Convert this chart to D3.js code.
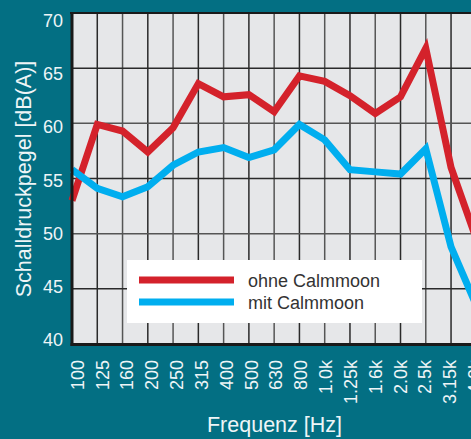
<!DOCTYPE html>
<html><head><meta charset="utf-8">
<script src="https://cdn.jsdelivr.net/npm/d3@7"></script>
<style>
html,body{margin:0;padding:0;background:#036f83;}
svg{display:block;}
text{font-family:"Liberation Sans",Arial,Helvetica,sans-serif;}
</style></head>
<body>
<script>
const categories = ["100","125","160","200","250","315","400","500","630","800","1.0k","1.25k","1.6k","2.0k","2.5k","3.15k","4.0k"];
const ohneCalmmoon = [53.0,59.9,59.3,57.4,59.6,63.6,62.4,62.6,61.05,64.3,63.8,62.5,60.9,62.4,66.8,56.0,49.5];
const mitCalmmoon  = [55.8,54.1,53.35,54.25,56.2,57.4,57.8,56.9,57.6,59.9,58.5,55.8,55.6,55.4,57.7,48.8,43.5];
const yTicks = [40,45,50,55,60,65,70];
const seriesNames = ["ohne Calmmoon","mit Calmmoon"];
const seriesColors = ["#d4222b","#00aeef"];

const W = 471, H = 439;
const svg = d3.select("body").append("svg").attr("width", W).attr("height", H);
svg.append("rect").attr("width", W).attr("height", H).attr("fill", "#036f83");

const x = d3.scalePoint().domain(categories).range([72, 72 + 16*25.27]);
const y = d3.scaleLinear().domain([40, 70]).range([344, 13]);
// label placement scales
const xLab = d3.scalePoint().domain(categories).range([77.5, 77.5 + 16*24.83]);
const yLab = d3.scaleLinear().domain([40, 70]).range([339.5, 21]);

// plot background
svg.append("rect").attr("x", 72).attr("y", 13).attr("width", 520).attr("height", 331).attr("fill", "#e6e7e9");

// grid
const g = svg.append("g");
g.selectAll("line.v").data(categories.slice(1)).join("line")
  .attr("x1", d => x(d)).attr("x2", d => x(d)).attr("y1", 13).attr("y2", 344)
  .attr("stroke", (d,i) => i % 2 ? "#555" : "#2a2a2a").attr("stroke-width", 1.5);
g.selectAll("line.h").data(yTicks.slice(1, -1)).join("line")
  .attr("x1", 72).attr("x2", 600).attr("y1", d => y(d)).attr("y2", d => y(d))
  .attr("stroke", (d,i) => i % 2 ? "#555" : "#2a2a2a").attr("stroke-width", 1.5);

// lines
const line = d3.line().x((d,i) => x(categories[i])).y(d => y(d));
[ohneCalmmoon, mitCalmmoon].forEach((s, k) => {
  svg.append("path").datum(s).attr("d", line)
    .attr("fill", "none").attr("stroke", seriesColors[k]).attr("stroke-width", 7)
    .attr("stroke-linejoin", "miter").attr("stroke-miterlimit", 10);
});

// borders
svg.append("line").attr("x1", 70).attr("x2", W).attr("y1", 13).attr("y2", 13).attr("stroke", "#1a1a1a").attr("stroke-width", 2.2);
svg.append("line").attr("x1", 72).attr("x2", 72).attr("y1", 12).attr("y2", 346).attr("stroke", "#1a1a1a").attr("stroke-width", 3);
svg.append("line").attr("x1", 70.5).attr("x2", W).attr("y1", 344.5).attr("y2", 344.5).attr("stroke", "#1a1a1a").attr("stroke-width", 3);

// y axis labels
const yAxis = d3.axisLeft(yLab).tickValues(yTicks).tickSize(0).tickPadding(0);
const ya = svg.append("g").attr("transform", "translate(63,0)").call(yAxis);
ya.select(".domain").remove();
ya.selectAll("text").attr("fill", "#eef5f7").attr("font-size", 18).attr("font-family", "Liberation Sans, Arial, sans-serif");

// x axis labels
const xa = svg.append("g");
xa.selectAll("text").data(categories).join("text")
  .attr("transform", d => `translate(${xLab(d)},360) rotate(-90)`)
  .attr("text-anchor", "end").attr("dy", "0.35em")
  .attr("fill", "#eef5f7").attr("font-size", 18).text(d => d);

// titles
svg.append("text").attr("transform", "translate(31,179) rotate(-90)")
  .attr("text-anchor", "middle").attr("fill", "#eef5f7").attr("font-size", 21.5)
  .text("Schalldruckpegel [dB(A)]");
svg.append("text").attr("x", 274.5).attr("y", 432)
  .attr("text-anchor", "middle").attr("fill", "#eef5f7").attr("font-size", 21.5)
  .text("Frequenz [Hz]");

// legend
const lg = svg.append("g");
lg.append("rect").attr("x", 127).attr("y", 260).attr("width", 295).attr("height", 63).attr("fill", "#ffffff");
seriesNames.forEach((n, k) => {
  const yy = 280 + k*22;
  lg.append("line").attr("x1", 139).attr("x2", 234).attr("y1", yy).attr("y2", yy)
    .attr("stroke", seriesColors[k]).attr("stroke-width", 7);
  lg.append("text").attr("x", 248).attr("y", yy + 7).attr("fill", "#333")
    .attr("font-size", 18).text(n);
});
</script>
</body></html>
